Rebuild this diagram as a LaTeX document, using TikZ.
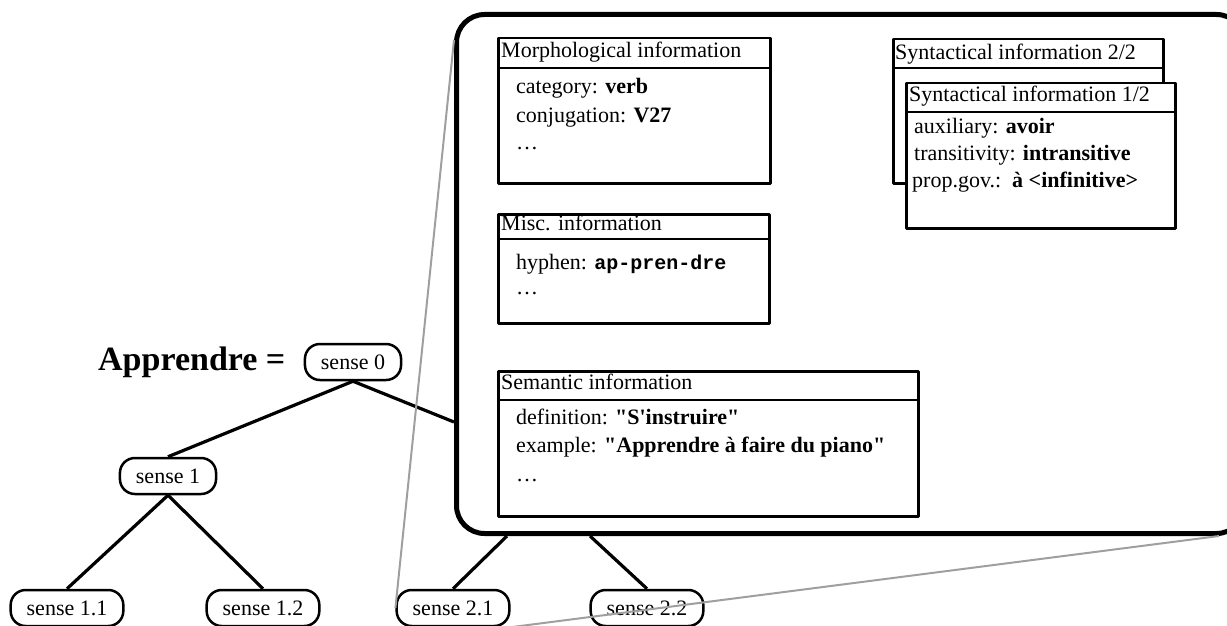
\documentclass[tikz,border=0pt]{standalone}
\usepackage{fontspec}
\setmainfont[Ligatures=TeXOff]{Liberation Serif}
\setmonofont{Liberation Mono}
\begin{document}
\begin{tikzpicture}[x=1pt,y=-1pt,line join=round]
	\tikzset{every node/.style={font=\fontsize{22}{26}\selectfont},
		sense/.style={draw,line width=2.5pt,rounded corners=15pt,minimum height=36pt,inner xsep=16pt,inner ysep=0pt,fill=white},
		infobox/.style={draw,line width=2.5pt,fill=white,anchor=north west,inner sep=0pt},
		txt/.style={anchor=base west,inner sep=0pt},
		branch/.style={line width=3.2pt},
		callout/.style={line width=2pt,gray!75}}
	\useasboundingbox (0,0) rectangle (1227,626);
	\node[draw,line width=5pt,rounded corners=28pt,minimum width=788pt,minimum height=519pt,anchor=north west,inner sep=0pt] (frame) at (454,12) {};
	\node[txt,font=\fontsize{34}{38}\selectfont\bfseries] (word) at (98,370) {Apprendre =};
	\node[sense] (s0) at (353,362) {sense 0};
	\node[sense] (s1) at (168,476) {sense 1};
	\node[sense] (s11) at (67,608) {sense 1.1};
	\node[sense] (s12) at (263,608) {sense 1.2};
	\node[sense] (s21) at (453,608) {sense 2.1};
	\node[sense] (s22) at (647,608) {sense 2.2};
	\draw[branch] (s0.south) -- (s1.north);
	\draw[branch] (s0.south) -- ([yshift=-148pt]frame.west);
	\draw[branch] (s1.south) -- (s11.north);
	\draw[branch] (s1.south) -- (s12.north);
	\draw[branch] ([xshift=53pt]frame.south west) -- (s21.north);
	\draw[branch] ([xshift=136pt]frame.south west) -- (s22.north);
	% morphology
	\node[infobox,minimum width=272pt,minimum height=145pt] (morph) at (497,37) {};
	\draw[line width=2.5pt] ([yshift=-31pt]morph.north west) -- ++(275,0);
	\node[txt] (morphhead) at (501,58) {Morphological information};
	\foreach \y/\t [count=\i] in {93/{category: \textbf{verb}},122/{conjugation: \textbf{V27}},149/\dots}
		\node[txt] (morph\i) at (516,\y) {\t};
	% misc
	\node[infobox,minimum width=271pt,minimum height=109pt] (misc) at (497,213) {};
	\draw[line width=2.5pt] ([yshift=-26pt]misc.north west) -- ++(274,0);
	\node[txt] (mischead) at (501,230) {Misc. information};
	\foreach \y/\t [count=\i] in {269/{hyphen: {\fontsize{20}{24}\selectfont\ttfamily\bfseries ap-pren-dre}},294/\dots}
		\node[txt] (misc\i) at (516,\y) {\t};
	% semantics
	\node[infobox,minimum width=420pt,minimum height=145pt] (sem) at (497,370) {};
	\draw[line width=2.5pt] ([yshift=-30pt]sem.north west) -- ++(423,0);
	\node[txt] (semhead) at (501,389) {Semantic information};
	\foreach \y/\t [count=\i] in {424/{definition: \textbf{"S'instruire"}},452/{example: \textbf{"Apprendre à faire du piano"}},481/\dots}
		\node[txt] (sem\i) at (516,\y) {\t};
	% syntax
	\node[infobox,minimum width=270pt,minimum height=144pt] (syn2) at (892,38) {};
	\draw[line width=2.5pt] ([yshift=-30pt]syn2.north west) -- ++(270,0);
	\node[txt] (syn2head) at (895,60) {Syntactical information 2/2};
	\node[infobox,minimum width=269pt,minimum height=145pt] (syn1) at (905,82) {};
	\draw[line width=2.5pt] ([yshift=-30pt]syn1.north west) -- ++(269,0);
	\node[txt] (syn1head) at (909,102) {Syntactical information 1/2};
	\foreach \x/\y/\t [count=\i] in {914/133/{auxiliary: \textbf{avoir}},914/160/{transitivity: \textbf{intransitive}},912/187/{prop.gov.:\ \ \textbf{à <infinitive>}}}
		\node[txt] (syn1\i) at (\x,\y) {\t};
	% zoom lines
	\draw[callout] ([yshift=-28pt]frame.north west) -- (s21.west);
	\draw[callout] ([xshift=-28pt]frame.south east) -- (s21.south east);
\end{tikzpicture}
\end{document}
